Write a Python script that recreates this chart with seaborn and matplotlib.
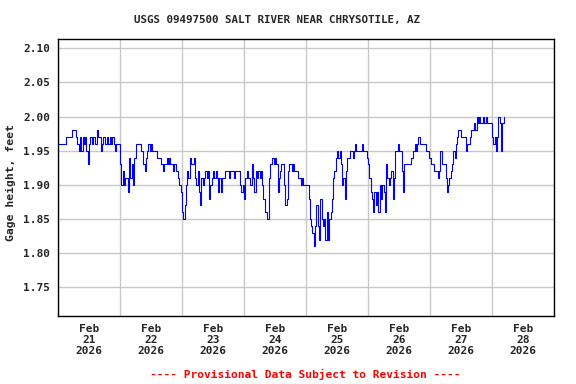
import matplotlib
matplotlib.use("Agg")
import matplotlib.pyplot as plt
import matplotlib.dates as mdates
from matplotlib.ticker import NullFormatter
import pandas as pd
import seaborn as sns

# ---- data: gage height (ft), 30-minute readings starting 2026-02-21 00:00 ----
feb21 = [1.96, 1.96, 1.96, 1.96, 1.96, 1.96, 1.97, 1.97, 1.97, 1.97, 1.97, 1.98,
         1.98, 1.98, 1.97, 1.96, 1.95, 1.97, 1.95, 1.97, 1.96, 1.97, 1.95, 1.93,
         1.96, 1.97, 1.96, 1.97, 1.97, 1.96, 1.98, 1.97, 1.97, 1.95, 1.96, 1.97,
         1.96, 1.96, 1.97, 1.96, 1.97, 1.96, 1.97, 1.96, 1.95, 1.96, 1.96, 1.96]
feb22 = [1.93, 1.90, 1.92, 1.90, 1.91, 1.91, 1.89, 1.94, 1.91, 1.93, 1.90, 1.94,
         1.96, 1.96, 1.96, 1.96, 1.95, 1.95, 1.93, 1.92, 1.94, 1.95, 1.96, 1.95,
         1.96, 1.95, 1.95, 1.95, 1.95, 1.94, 1.94, 1.94, 1.93, 1.92, 1.93, 1.93,
         1.94, 1.93, 1.94, 1.93, 1.93, 1.92, 1.93, 1.92, 1.92, 1.91, 1.90, 1.89]
feb23 = [1.86, 1.85, 1.87, 1.90, 1.92, 1.91, 1.94, 1.93, 1.93, 1.94, 1.91, 1.90,
         1.92, 1.89, 1.87, 1.91, 1.90, 1.91, 1.92, 1.91, 1.92, 1.88, 1.90, 1.91,
         1.92, 1.91, 1.92, 1.91, 1.89, 1.91, 1.89, 1.91, 1.91, 1.92, 1.92, 1.92,
         1.91, 1.92, 1.92, 1.92, 1.91, 1.92, 1.92, 1.92, 1.92, 1.90, 1.89, 1.90]
feb24 = [1.88, 1.91, 1.92, 1.91, 1.91, 1.90, 1.93, 1.91, 1.89, 1.92, 1.91, 1.92,
         1.91, 1.92, 1.90, 1.88, 1.86, 1.86, 1.85, 1.91, 1.93, 1.93, 1.94, 1.93,
         1.94, 1.93, 1.89, 1.91, 1.92, 1.93, 1.93, 1.90, 1.87, 1.88, 1.92, 1.93,
         1.93, 1.92, 1.93, 1.92, 1.92, 1.92, 1.91, 1.91, 1.90, 1.91, 1.90, 1.90]
feb25 = [1.90, 1.90, 1.88, 1.85, 1.84, 1.83, 1.81, 1.84, 1.87, 1.84, 1.82, 1.88,
         1.85, 1.84, 1.85, 1.82, 1.86, 1.82, 1.85, 1.86, 1.88, 1.91, 1.92, 1.94,
         1.95, 1.94, 1.95, 1.93, 1.90, 1.91, 1.88, 1.92, 1.94, 1.94, 1.95, 1.95,
         1.94, 1.95, 1.96, 1.95, 1.95, 1.95, 1.95, 1.96, 1.95, 1.95, 1.95, 1.94]
feb26 = [1.93, 1.91, 1.89, 1.88, 1.86, 1.89, 1.87, 1.89, 1.86, 1.90, 1.88, 1.90,
         1.89, 1.86, 1.93, 1.91, 1.90, 1.91, 1.92, 1.88, 1.91, 1.95, 1.95, 1.96,
         1.95, 1.95, 1.92, 1.89, 1.93, 1.93, 1.93, 1.93, 1.93, 1.94, 1.94, 1.95,
         1.96, 1.95, 1.96, 1.97, 1.96, 1.96, 1.96, 1.96, 1.96, 1.95, 1.95, 1.94]
feb27 = [1.94, 1.93, 1.93, 1.92, 1.92, 1.92, 1.91, 1.92, 1.95, 1.93, 1.93, 1.93,
         1.91, 1.89, 1.90, 1.91, 1.92, 1.93, 1.95, 1.94, 1.96, 1.97, 1.98, 1.98,
         1.97, 1.97, 1.97, 1.97, 1.95, 1.96, 1.96, 1.97, 1.98, 1.98, 1.99, 1.98,
         2.00, 1.99, 2.00, 1.99, 1.99, 2.00, 1.99, 2.00, 1.99, 1.99, 1.99, 1.99]
feb28 = [1.97, 1.96, 1.97, 1.95, 1.97, 2.00, 1.99, 1.95, 1.99, 2.00]

y_ticks = [1.75, 1.80, 1.85, 1.90, 1.95, 2.00, 2.05, 2.10]
y_tick_labels = ["1.75", "1.80", "1.85", "1.90", "1.95", "2.00", "2.05", "2.10"]
day_labels = ["Feb\n21\n2026", "Feb\n22\n2026", "Feb\n23\n2026", "Feb\n24\n2026",
              "Feb\n25\n2026", "Feb\n26\n2026", "Feb\n27\n2026", "Feb\n28\n2026"]
title = "USGS 09497500 SALT RIVER NEAR CHRYSOTILE, AZ"
y_label = "Gage height, feet"
footer = "---- Provisional Data Subject to Revision ----"

values = feb21 + feb22 + feb23 + feb24 + feb25 + feb26 + feb27 + feb28
times = pd.date_range("2026-02-21 00:00", periods=len(values), freq="30min")
df = pd.DataFrame({"time": times, "gage": values})

sns.set_theme(style="white")
plt.rcParams['font.family'] = ['DejaVu Sans Mono', 'DejaVu Sans']
plt.rcParams['font.weight'] = 'bold'

W, H = 576, 384
fig = plt.figure(figsize=(W / 100, H / 100), dpi=100)
fig.patch.set_facecolor("white")
ax = fig.add_axes([58 / W, 1 - 316 / H, (554 - 58) / W, (316 - 39) / H])
ax.set_facecolor("white")

sns.lineplot(data=df, x="time", y="gage", ax=ax, color="#0000ff", lw=0.8,
             drawstyle="steps-post", estimator=None, legend=False)

start = pd.Timestamp("2026-02-21")
ax.set_xlim(start, pd.Timestamp("2026-03-01"))
ax.set_ylim(1.708, 2.1136)

ax.set_yticks(y_ticks)
ax.set_yticklabels(y_tick_labels, fontsize=8, fontweight="bold")

ax.xaxis.set_major_locator(mdates.DayLocator())
ax.xaxis.set_major_formatter(NullFormatter())
noon = [start + pd.Timedelta(hours=12) + pd.Timedelta(days=i) for i in range(len(day_labels))]
ax.set_xticks(noon, minor=True)
ax.set_xticklabels(day_labels, minor=True, fontsize=8, fontweight="bold", linespacing=1.15)

ax.grid(True, which="major", color="#c8c8c8", lw=1.0)
ax.tick_params(which="both", length=0)
ax.tick_params(axis="y", pad=5.5)
ax.tick_params(axis="x", which="minor", pad=5.5)
ax.set_xlabel("")
ax.set_ylabel("")
for s in ax.spines.values():
    s.set_color("black")
    s.set_linewidth(1.0)

fig.text(277.5 / W, 1 - 20 / H, title, ha="center", va="center", fontsize=7.8, fontweight="bold")
fig.text(11 / W, 1 - 183 / H, y_label, ha="center", va="center", rotation=90, fontsize=8.2,
         fontweight="bold")
fig.text(305 / W, 1 - 374.5 / H, footer, ha="center", va="center", fontsize=8.1,
         fontweight="bold", color="#ff0000")

fig.savefig("out.png", dpi=100, facecolor="white")
